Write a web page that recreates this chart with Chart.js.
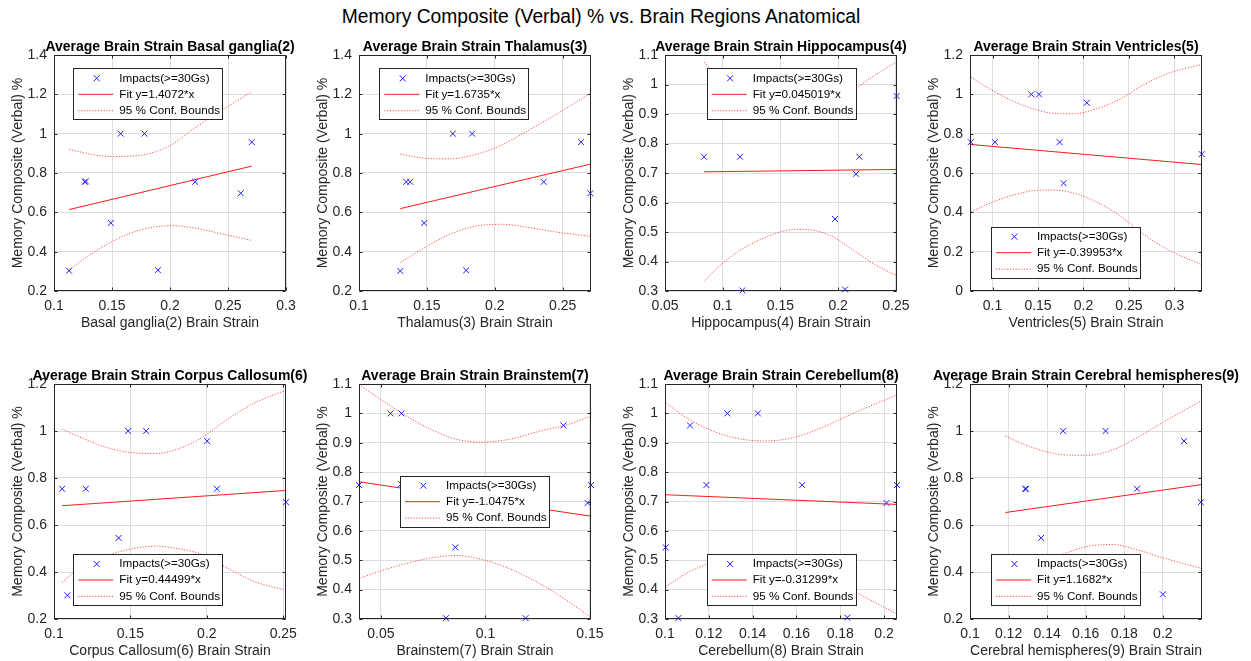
<!DOCTYPE html>
<html>
<head>
<meta charset="utf-8">
<title>Memory Composite (Verbal) % vs. Brain Regions Anatomical</title>
<script src="https://cdn.jsdelivr.net/npm/chart.js@4.4.1/dist/chart.umd.min.js"></script>
<style>
  html, body { margin: 0; padding: 0; background: #fff; overflow: hidden; }
  body { width: 1251px; height: 661px; position: relative; font-family: "Liberation Sans", Arial, sans-serif; }
  #suptitle { position: absolute; left: 0; width: 1202px; top: 7px; text-align: center;
    font-size: 19.3px; line-height: 19.3px; color: #000; white-space: nowrap; }
  .panel { position: absolute; }
</style>
</head>
<body>
<div id="suptitle">Memory Composite (Verbal) % vs. Brain Regions Anatomical</div>
<script>
// Subplot categories, in reading order
const regions = ['Basal ganglia(2)', 'Thalamus(3)', 'Hippocampus(4)', 'Ventricles(5)',
  'Corpus Callosum(6)', 'Brainstem(7)', 'Cerebellum(8)', 'Cerebral hemispheres(9)'];
const fitLabels = ['Fit y=1.4072*x', 'Fit y=1.6735*x', 'Fit y=0.045019*x', 'Fit y=-0.39953*x',
  'Fit y=0.44499*x', 'Fit y=-1.0475*x', 'Fit y=-0.31299*x', 'Fit y=1.1682*x'];
const pointLabel = 'Impacts(>=30Gs)';
const boundLabel = '95 % Conf. Bounds';
const yTitle = 'Memory Composite (Verbal) %';

// Basal ganglia(2)
const bgStrain = [0.113, 0.1265, 0.1275, 0.149, 0.1575, 0.178, 0.1896, 0.2217, 0.261, 0.2705];
const bgScore = [0.303, 0.755, 0.757, 0.546, 1.0, 1.0, 0.306, 0.755, 0.697, 0.957];
const bgFitX = [0.113, 0.2705];
const bgFitY = [0.614, 0.835];
const bgBoundX = [0.113, 0.1338, 0.1512, 0.1743, 0.2003, 0.2205, 0.2408, 0.2697];
const bgUpper = [0.92, 0.893, 0.884, 0.89, 0.94, 1.025, 1.105, 1.21];
const bgLower = [0.309, 0.395, 0.455, 0.51, 0.532, 0.521, 0.496, 0.458];

// Thalamus(3)
const thStrain = [0.1304, 0.1348, 0.1377, 0.148, 0.1691, 0.1789, 0.1833, 0.236, 0.2635, 0.2703];
const thScore = [0.302, 0.755, 0.755, 0.546, 1.0, 0.305, 1.0, 0.755, 0.957, 0.697];
const thFitX = [0.1304, 0.2703];
const thFitY = [0.619, 0.845];
const thBoundX = [0.1304, 0.147, 0.1667, 0.1863, 0.2059, 0.2255, 0.2451, 0.2703];
const thUpper = [0.896, 0.876, 0.872, 0.895, 0.945, 1.02, 1.098, 1.205];
const thLower = [0.344, 0.415, 0.488, 0.53, 0.539, 0.522, 0.5, 0.478];

// Hippocampus(4)
const hcStrain = [0.0838, 0.115, 0.117, 0.13, 0.16, 0.1973, 0.206, 0.2155, 0.2184, 0.2507];
const hcScore = [0.755, 0.755, 0.302, 1.0, 1.0, 0.544, 0.305, 0.697, 0.755, 0.961];
const hcFitX = [0.0838, 0.2507];
const hcFitY = [0.704, 0.712];
const hcBoundX = [0.0838, 0.0977, 0.115, 0.1323, 0.1496, 0.164, 0.1785, 0.1958, 0.2132, 0.2305, 0.2507];
const hcUpper = [1.076, 1.023, 0.973, 0.938, 0.914, 0.906, 0.91, 0.935, 0.981, 1.028, 1.077];
const hcLower = [0.332, 0.387, 0.438, 0.474, 0.5, 0.509, 0.506, 0.483, 0.438, 0.393, 0.352];

// Ventricles(5)
const vnStrain = [0.076, 0.1026, 0.1427, 0.15, 0.1511, 0.1737, 0.1781, 0.2037, 0.21, 0.33];
const vnScore = [0.757, 0.757, 1.0, 0.303, 1.0, 0.757, 0.548, 0.957, 0.306, 0.696];
const vnFitX = [0.076, 0.33];
const vnFitY = [0.745, 0.643];
const vnBoundX = [0.076, 0.1008, 0.1263, 0.152, 0.1664, 0.1883, 0.214, 0.2394, 0.265, 0.2942, 0.33];
const vnUpper = [1.088, 1.017, 0.958, 0.916, 0.904, 0.901, 0.926, 0.974, 1.046, 1.108, 1.152];
const vnLower = [0.402, 0.453, 0.492, 0.513, 0.513, 0.499, 0.453, 0.385, 0.292, 0.207, 0.134];

// Corpus Callosum(6)
const ccStrain = [0.1053, 0.1088, 0.1208, 0.1423, 0.1485, 0.1603, 0.17, 0.2002, 0.2066, 0.2518];
const ccScore = [0.754, 0.301, 0.754, 0.545, 1.0, 1.0, 0.305, 0.957, 0.754, 0.697];
const ccFitX = [0.1053, 0.2518];
const ccFitY = [0.682, 0.747];
const ccBoundX = [0.1053, 0.1191, 0.1344, 0.152, 0.1673, 0.1805, 0.1958, 0.2134, 0.2309, 0.2518];
const ccUpper = [1.008, 0.968, 0.93, 0.907, 0.904, 0.922, 0.968, 1.049, 1.118, 1.174];
const ccLower = [0.356, 0.429, 0.47, 0.5, 0.51, 0.5, 0.477, 0.417, 0.36, 0.322];

// Brainstem(7)
const bsStrain = [0.0395, 0.0546, 0.0598, 0.0596, 0.0811, 0.0856, 0.1192, 0.1373, 0.1489, 0.1505];
const bsScore = [0.756, 1.0, 1.0, 0.759, 0.303, 0.544, 0.303, 0.959, 0.695, 0.756];
const bsFitX = [0.0395, 0.1505];
const bsFitY = [0.767, 0.65];
const bsBoundX = [0.0395, 0.05, 0.0638, 0.0765, 0.086, 0.0987, 0.1114, 0.1273, 0.14, 0.1505];
const bsUpper = [1.097, 1.047, 0.984, 0.937, 0.912, 0.902, 0.912, 0.942, 0.963, 0.991];
const bsLower = [0.438, 0.464, 0.492, 0.511, 0.516, 0.502, 0.472, 0.415, 0.358, 0.305];

// Cerebellum(8)
const cbStrain = [0.1003, 0.1061, 0.1114, 0.1189, 0.1285, 0.1424, 0.1626, 0.1832, 0.2011, 0.2059];
const cbScore = [0.544, 0.303, 0.959, 0.756, 1.0, 1.0, 0.756, 0.305, 0.695, 0.756];
const cbFitX = [0.1003, 0.2059];
const cbFitY = [0.723, 0.69];
const cbBoundX = [0.1003, 0.1102, 0.1208, 0.1329, 0.145, 0.1571, 0.1708, 0.1859, 0.2059];
const cbUpper = [1.036, 0.983, 0.943, 0.915, 0.906, 0.915, 0.949, 1.0, 1.063];
const cbLower = [0.41, 0.457, 0.49, 0.51, 0.512, 0.495, 0.453, 0.395, 0.317];

// Cerebral hemispheres(9)
const chStrain = [0.1183, 0.1286, 0.1291, 0.1369, 0.1483, 0.1703, 0.1866, 0.2, 0.211, 0.2197];
const chScore = [0.305, 0.754, 0.754, 0.545, 1.0, 1.0, 0.754, 0.305, 0.957, 0.697];
const chFitX = [0.1183, 0.22];
const chFitY = [0.653, 0.772];
const chBoundX = [0.1183, 0.129, 0.141, 0.1531, 0.1617, 0.1738, 0.1859, 0.1997, 0.22];
const chUpper = [0.978, 0.94, 0.909, 0.897, 0.897, 0.919, 0.968, 1.035, 1.129];
const chLower = [0.328, 0.391, 0.45, 0.49, 0.51, 0.517, 0.496, 0.461, 0.415];

// Axis limits and tick labels per subplot
const xRange = [[0.1, 0.3], [0.1, 0.2708], [0.05, 0.251], [0.0752, 0.3303],
  [0.1, 0.2518], [0.0395, 0.1505], [0.1, 0.2059], [0.1, 0.2203]];
const yRange = [[0.2, 1.4], [0.2, 1.4], [0.3, 1.1], [0, 1.2],
  [0.2, 1.2], [0.3, 1.1], [0.3, 1.1], [0.2, 1.2]];
const xTicks = [
  [0.1, 0.15, 0.2, 0.25, 0.3], [0.1, 0.15, 0.2, 0.25], [0.05, 0.1, 0.15, 0.2, 0.25], [0.1, 0.15, 0.2, 0.25, 0.3],
  [0.1, 0.15, 0.2, 0.25], [0.05, 0.1, 0.15], [0.1, 0.12, 0.14, 0.16, 0.18, 0.2], [0.1, 0.12, 0.14, 0.16, 0.18, 0.2]
];
const yTicks = [
  [0.2, 0.4, 0.6, 0.8, 1, 1.2, 1.4], [0.2, 0.4, 0.6, 0.8, 1, 1.2, 1.4],
  [0.3, 0.4, 0.5, 0.6, 0.7, 0.8, 0.9, 1, 1.1], [0, 0.2, 0.4, 0.6, 0.8, 1, 1.2],
  [0.2, 0.4, 0.6, 0.8, 1, 1.2], [0.3, 0.4, 0.5, 0.6, 0.7, 0.8, 0.9, 1, 1.1],
  [0.3, 0.4, 0.5, 0.6, 0.7, 0.8, 0.9, 1, 1.1], [0.2, 0.4, 0.6, 0.8, 1, 1.2]
];

const series = [
  [bgStrain, bgScore, bgFitX, bgFitY, bgBoundX, bgUpper, bgLower],
  [thStrain, thScore, thFitX, thFitY, thBoundX, thUpper, thLower],
  [hcStrain, hcScore, hcFitX, hcFitY, hcBoundX, hcUpper, hcLower],
  [vnStrain, vnScore, vnFitX, vnFitY, vnBoundX, vnUpper, vnLower],
  [ccStrain, ccScore, ccFitX, ccFitY, ccBoundX, ccUpper, ccLower],
  [bsStrain, bsScore, bsFitX, bsFitY, bsBoundX, bsUpper, bsLower],
  [cbStrain, cbScore, cbFitX, cbFitY, cbBoundX, cbUpper, cbLower],
  [chStrain, chScore, chFitX, chFitY, chBoundX, chUpper, chLower]
];

// Page layout: plot box [left, top, width, height] and legend offset inside the box
const boxes = [
  [54, 55, 232, 236], [359, 55, 232, 236], [665, 55, 232, 236], [970, 55, 232, 236],
  [54, 384, 232, 235], [359, 384, 232, 235], [665, 384, 232, 235], [970, 384, 232, 235]
];
const legendAt = [[19.3, 13.3], [20.3, 13.3], [41.7, 13.3], [21, 171.7],
  [19.3, 170], [41, 91.7], [41.7, 170], [21, 170]];

const FONT = '"Liberation Sans", Arial, sans-serif';
const AXIS = '#262626';
const BLUE = '#1f1fff';
const RED = 'rgba(255, 0, 0, 0.9)';
const RED_DOT = 'rgba(255, 0, 0, 0.7)';

Chart.defaults.font.family = FONT;

function fmt(v) {
  return String(Number(Number(v).toFixed(4)));
}

function pairs(xs, ys) {
  return xs.map((x, i) => ({ x: x, y: ys[i] }));
}

// Draws the MATLAB-like inset legend, the axes box, inward ticks and the subplot title
const matlabAxes = {
  id: 'matlabAxes',
  afterDatasetsDraw(chart, args, opts) {
    const ctx = chart.ctx;
    const a = chart.chartArea;
    const lx = a.left + opts.legendAt[0];
    const ly = a.top + opts.legendAt[1];
    const w = 149, h = 51;
    ctx.save();
    ctx.fillStyle = '#fff';
    ctx.fillRect(lx, ly, w, h);
    ctx.strokeStyle = AXIS;
    ctx.lineWidth = 1;
    ctx.strokeRect(Math.round(lx) + 0.5, Math.round(ly) + 0.5, w, h);

    // row 1: marker
    const r1 = ly + 10, r2 = ly + 26, r3 = ly + 42.4;
    const cx = lx + 23.4;
    ctx.strokeStyle = BLUE;
    ctx.beginPath();
    ctx.moveTo(cx - 3, r1 - 3); ctx.lineTo(cx + 3, r1 + 3);
    ctx.moveTo(cx + 3, r1 - 3); ctx.lineTo(cx - 3, r1 + 3);
    ctx.stroke();
    // row 2: fit line
    ctx.strokeStyle = RED;
    ctx.beginPath();
    ctx.moveTo(lx + 5, r2); ctx.lineTo(lx + 40, r2);
    ctx.stroke();
    // row 3: dotted bounds
    ctx.strokeStyle = RED_DOT;
    ctx.setLineDash([1.2, 1.6]);
    ctx.beginPath();
    ctx.moveTo(lx + 5, r3); ctx.lineTo(lx + 40, r3);
    ctx.stroke();
    ctx.setLineDash([]);

    ctx.fillStyle = '#000';
    ctx.font = '11.7px ' + FONT;
    ctx.textAlign = 'left';
    ctx.textBaseline = 'middle';
    ctx.fillText(pointLabel, lx + 46, r1);
    ctx.fillText(opts.fitLabel, lx + 46, r2);
    ctx.fillText(boundLabel, lx + 46, r3);
    ctx.restore();
  },
  afterDraw(chart, args, opts) {
    const ctx = chart.ctx;
    const a = chart.chartArea;
    const xs = chart.scales.x, ys = chart.scales.y;
    ctx.save();
    ctx.strokeStyle = AXIS;
    ctx.lineWidth = 1;
    const L = Math.round(a.left) + 0.5, T = Math.round(a.top) + 0.5;
    const R = Math.round(a.right) - 0.5, B = Math.round(a.bottom) - 0.5;
    ctx.strokeRect(L, T, R - L, B - T);
    ctx.beginPath();
    xs.ticks.forEach(t => {
      const px = Math.round(xs.getPixelForValue(t.value)) + 0.5;
      ctx.moveTo(px, B); ctx.lineTo(px, B - 3);
      ctx.moveTo(px, T); ctx.lineTo(px, T + 3);
    });
    ys.ticks.forEach(t => {
      const py = Math.round(ys.getPixelForValue(t.value)) + 0.5;
      ctx.moveTo(L, py); ctx.lineTo(L + 3, py);
      ctx.moveTo(R, py); ctx.lineTo(R - 3, py);
    });
    ctx.stroke();

    ctx.fillStyle = '#000';
    ctx.font = 'bold 14px ' + FONT;
    ctx.textAlign = 'center';
    ctx.textBaseline = 'alphabetic';
    ctx.fillText(opts.title, (a.left + a.right) / 2, a.top - 4.5);
    ctx.restore();
  }
};

const PAD_L = 54, PAD_T = 25, PAD_R = 40, PAD_B = 42;

regions.forEach((name, i) => {
  const [strain, score, fitX, fitY, boundX, upper, lower] = series[i];
  const [bx, by, bw, bh] = boxes[i];

  const wrap = document.createElement('div');
  wrap.className = 'panel';
  wrap.style.left = (bx - PAD_L) + 'px';
  wrap.style.top = (by - PAD_T) + 'px';
  const cv = document.createElement('canvas');
  const cw = PAD_L + bw + PAD_R, ch = PAD_T + bh + PAD_B;
  cv.width = cw; cv.height = ch;
  cv.style.width = cw + 'px'; cv.style.height = ch + 'px';
  wrap.appendChild(cv);
  document.body.appendChild(wrap);

  const tickFont = { size: 14, family: FONT };

  new Chart(cv.getContext('2d'), {
    type: 'scatter',
    data: {
      datasets: [{
        label: pointLabel,
        data: pairs(strain, score),
        showLine: false,
        pointStyle: 'crossRot',
        pointRadius: 4.2,
        pointBorderWidth: 1,
        borderColor: BLUE,
        backgroundColor: BLUE,
        clip: false
      }, {
        label: fitLabels[i],
        data: pairs(fitX, fitY),
        showLine: true,
        pointRadius: 0,
        borderColor: RED,
        borderWidth: 1,
        clip: false
      }, {
        label: boundLabel,
        data: pairs(boundX, upper),
        showLine: true,
        pointRadius: 0,
        borderColor: RED_DOT,
        borderWidth: 1,
        borderDash: [1.2, 1.6],
        cubicInterpolationMode: 'monotone',
        clip: false
      }, {
        label: boundLabel,
        data: pairs(boundX, lower),
        showLine: true,
        pointRadius: 0,
        borderColor: RED_DOT,
        borderWidth: 1,
        borderDash: [1.2, 1.6],
        cubicInterpolationMode: 'monotone',
        clip: false
      }]
    },
    options: {
      responsive: false,
      animation: false,
      events: [],
      devicePixelRatio: 1,
      layout: { padding: { left: 0, top: PAD_T, right: PAD_R, bottom: 0 } },
      plugins: {
        legend: { display: false },
        tooltip: { enabled: false },
        title: { display: false },
        matlabAxes: { title: 'Average Brain Strain ' + name, fitLabel: fitLabels[i], legendAt: legendAt[i] }
      },
      scales: {
        x: {
          type: 'linear',
          position: 'bottom',
          bounds: 'data',
          min: xRange[i][0],
          max: xRange[i][1],
          afterBuildTicks: s => { s.ticks = xTicks[i].map(v => ({ value: v })); },
          afterFit: s => { s.height = PAD_B; },
          grid: { color: '#dedede', lineWidth: 1, drawTicks: false },
          border: { display: false },
          ticks: { font: tickFont, color: AXIS, padding: 6.5, maxRotation: 0, autoSkip: false, callback: fmt },
          title: { display: true, text: name + ' Brain Strain', font: tickFont, color: AXIS, padding: { top: 0, bottom: 1.1 } }
        },
        y: {
          type: 'linear',
          position: 'left',
          bounds: 'data',
          min: yRange[i][0],
          max: yRange[i][1],
          afterBuildTicks: s => { s.ticks = yTicks[i].map(v => ({ value: v })); },
          afterFit: s => { s.width = PAD_L; },
          grid: { color: '#dedede', lineWidth: 1, drawTicks: false },
          border: { display: false },
          ticks: { font: tickFont, color: AXIS, padding: 7, autoSkip: false, callback: fmt },
          title: { display: true, text: yTitle, font: tickFont, color: AXIS, padding: { top: 10.1, bottom: 0 } }
        }
      }
    },
    plugins: [matlabAxes]
  });
});
</script>
</body>
</html>
